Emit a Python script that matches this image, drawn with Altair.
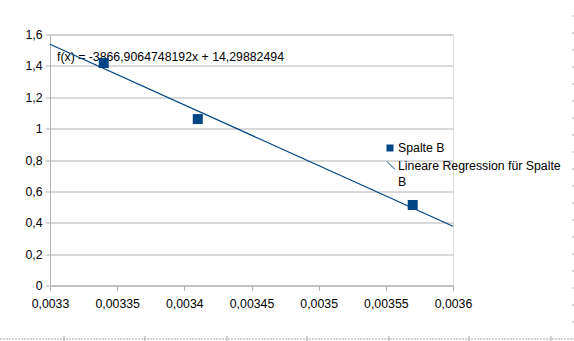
import altair as alt
import pandas as pd

# Data
x_vals = [0.003340, 0.003410, 0.003570]
y_vals = [1.418, 1.061, 0.513]

slope = -3866.9064748192
intercept = 14.29882494
x_domain = [0.0033, 0.0036]
x_ticks = [0.0033, 0.00335, 0.0034, 0.00345, 0.0035, 0.00355, 0.0036]
y_ticks = [0, 0.2, 0.4, 0.6, 0.8, 1.0, 1.2, 1.4, 1.6]
eq_label = "f(x) = -3866,9064748192x + 14,29882494"
legend_labels = ["Spalte B", "Lineare Regression für Spalte\nB"]

BLUE = "#004586"
GRID = "#b3b3b3"
FONT = "Liberation Sans"

pts = pd.DataFrame({"x": x_vals, "y": y_vals})
reg = pd.DataFrame({"x": x_domain, "y": [slope * v + intercept for v in x_domain]})
eq = pd.DataFrame({"x": [0.0033052], "y": [1.4566], "t": [eq_label]})

xs = alt.Scale(domain=x_domain, nice=False, zero=False)
ys = alt.Scale(domain=[0, 1.6], nice=False)

xaxis = alt.Axis(values=x_ticks, grid=False, title=None,
                 labelExpr="replace(format(datum.value, '.5~f'), '.', ',')",
                 labelOverlap=False, labelFlush=False, labelPadding=7)
yaxis = alt.Axis(values=y_ticks, grid=True, gridColor=GRID, title=None,
                 labelExpr="replace(format(datum.value, '.1~f'), '.', ',')",
                 labelOverlap=False, labelPadding=3)

X = alt.X("x:Q", scale=xs, axis=xaxis)
Y = alt.Y("y:Q", scale=ys, axis=yaxis)

text = alt.Chart(eq).mark_text(align="left", baseline="middle", font=FONT,
                               fontSize=12.3, color="black").encode(x=X, y=Y, text="t:N")

line = alt.Chart(reg).mark_line(color=BLUE, strokeWidth=1.2).encode(x=X, y=Y)

points = alt.Chart(pts).mark_square(size=100, color=BLUE, opacity=1).encode(x=X, y=Y)

# Manual legend
one = pd.DataFrame({"a": [0]})
leg_sq = alt.Chart(one).mark_square(size=49, color=BLUE, opacity=1).encode(
    x=alt.value(340), y=alt.value(113.5))
leg_t1 = alt.Chart(one).mark_text(align="left", baseline="middle", font=FONT,
                                  fontSize=12.3, color="black",
                                  text=legend_labels[0]).encode(
    x=alt.value(348), y=alt.value(113.5))
leg_ln = alt.Chart(one).mark_rule(color=BLUE, strokeWidth=1).encode(
    x=alt.value(337), x2=alt.value(345), y=alt.value(127), y2=alt.value(135))
leg_t2 = alt.Chart(one).mark_text(align="left", baseline="middle", font=FONT,
                                  fontSize=12.3, color="black", lineHeight=16,
                                  lineBreak="\n",
                                  text=legend_labels[1]).encode(
    x=alt.value(348), y=alt.value(131.5))

# Spreadsheet cell borders in the background
bottom = alt.Chart(one).mark_rule(color="#a8a8a8", strokeWidth=1, strokeDash=[2, 1]).encode(
    x=alt.value(-50), x2=alt.value(524), y=alt.value(304.5))
col_px = pd.DataFrame({"px": [14, 95, 177, 257, 339, 419, 501]})
cols = alt.Chart(col_px).mark_rule(color="#a8a8a8", strokeWidth=1).encode(
    x=alt.X("px:Q", scale=None), y=alt.value(301.5), y2=alt.value(306.5))
row_px = pd.DataFrame({"py": [16 + 17 * k - 34.5 for k in range(19)]})
rows = alt.Chart(row_px).mark_rule(color="#c0b0c0", strokeWidth=1).encode(
    x=alt.value(522), x2=alt.value(524), y=alt.Y("py:Q", scale=None))

chart = alt.layer(text, line, points, bottom, cols, rows,
                  leg_sq, leg_t1, leg_ln, leg_t2).properties(
    width=403, height=251,
    padding={"left": 50, "top": 34.5, "right": 121, "bottom": 55.5},
    autosize=alt.AutoSizeParams(type="none"),
).configure_view(stroke=GRID, strokeWidth=1).configure(background="white"
).configure_axis(labelFont=FONT, labelFontSize=12.3, labelColor="black",
                 domainColor=GRID, tickColor=GRID, tickSize=5,
                 labelOverlap=False)

chart.save("out.html", embed_options={"renderer": "svg", "actions": False})
